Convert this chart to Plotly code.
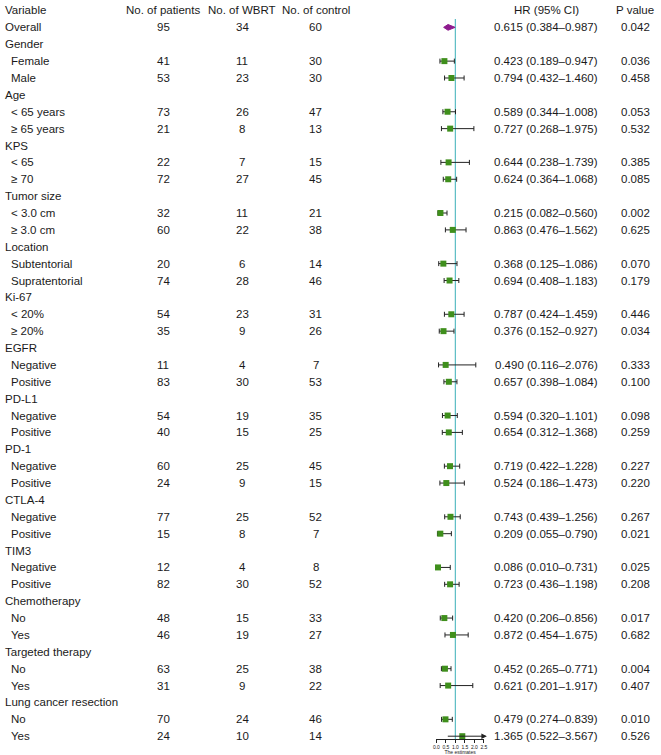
import plotly.graph_objects as go

# ---- data -------------------------------------------------------------
headers = ["Variable", "No. of patients", "No. of WBRT", "No. of control", "HR (95% CI)", "P value"]

variables = [
    "Overall",
    "Gender", "Female", "Male",
    "Age", "< 65 years", "≥ 65 years",
    "KPS", "< 65", "≥ 70",
    "Tumor size", "< 3.0 cm", "≥ 3.0 cm",
    "Location", "Subtentorial", "Supratentorial",
    "Ki-67", "< 20%", "≥ 20%",
    "EGFR", "Negative", "Positive",
    "PD-L1", "Negative", "Positive",
    "PD-1", "Negative", "Positive",
    "CTLA-4", "Negative", "Positive",
    "TIM3", "Negative", "Positive",
    "Chemotherapy", "No", "Yes",
    "Targeted therapy", "No", "Yes",
    "Lung cancer resection", "No", "Yes",
]
# 0 = group / overall row, 1 = subgroup row (indented)
levels = [0] + [0, 1, 1] * 14

N = None
n_patients = [95, N, 41, 53, N, 73, 21, N, 22, 72, N, 32, 60, N, 20, 74, N, 54, 35, N, 11, 83,
              N, 54, 40, N, 60, 24, N, 77, 15, N, 12, 82, N, 48, 46, N, 63, 31, N, 70, 24]
n_wbrt = [34, N, 11, 23, N, 26, 8, N, 7, 27, N, 11, 22, N, 6, 28, N, 23, 9, N, 4, 30,
          N, 19, 15, N, 25, 9, N, 25, 8, N, 4, 30, N, 15, 19, N, 25, 9, N, 24, 10]
n_control = [60, N, 30, 30, N, 47, 13, N, 15, 45, N, 21, 38, N, 14, 46, N, 31, 26, N, 7, 53,
             N, 35, 25, N, 45, 15, N, 52, 7, N, 8, 52, N, 33, 27, N, 38, 22, N, 46, 14]
hr = [0.615, N, 0.423, 0.794, N, 0.589, 0.727, N, 0.644, 0.624, N, 0.215, 0.863, N, 0.368, 0.694,
      N, 0.787, 0.376, N, 0.490, 0.657, N, 0.594, 0.654, N, 0.719, 0.524, N, 0.743, 0.209,
      N, 0.086, 0.723, N, 0.420, 0.872, N, 0.452, 0.621, N, 0.479, 1.365]
ci_low = [0.384, N, 0.189, 0.432, N, 0.344, 0.268, N, 0.238, 0.364, N, 0.082, 0.476, N, 0.125, 0.408,
          N, 0.424, 0.152, N, 0.116, 0.398, N, 0.320, 0.312, N, 0.422, 0.186, N, 0.439, 0.055,
          N, 0.010, 0.436, N, 0.206, 0.454, N, 0.265, 0.201, N, 0.274, 0.522]
ci_high = [0.987, N, 0.947, 1.460, N, 1.008, 1.975, N, 1.739, 1.068, N, 0.560, 1.562, N, 1.086, 1.183,
           N, 1.459, 0.927, N, 2.076, 1.084, N, 1.101, 1.368, N, 1.228, 1.473, N, 1.256, 0.790,
           N, 0.731, 1.198, N, 0.856, 1.675, N, 0.771, 1.917, N, 0.839, 3.567]
p_values = [0.042, N, 0.036, 0.458, N, 0.053, 0.532, N, 0.385, 0.085, N, 0.002, 0.625, N, 0.070, 0.179,
            N, 0.446, 0.034, N, 0.333, 0.100, N, 0.098, 0.259, N, 0.227, 0.220, N, 0.267, 0.021,
            N, 0.025, 0.208, N, 0.017, 0.682, N, 0.004, 0.407, N, 0.010, 0.526]

x_ticks = [0.0, 0.5, 1.0, 1.5, 2.0, 2.5]

# ---- layout constants -------------------------------------------------
W, H = 661, 755
FONT = "Liberation Sans, Arial, Helvetica, sans-serif"
TEXT_COLOR = "#1a1a1a"
BOX_COLOR = "#3f8f1c"
DIAMOND_COLOR = "#8e1a8e"
REF_COLOR = "#5bbdc4"
X_MAX = 2.5
ARROW_TIP = 2.66

ROW0_PX, ROW_STEP = 10.5, 16.9
PLOT_BOTTOM_PX = 740
y_top = -ROW0_PX / ROW_STEP
y_bottom = (PLOT_BOTTOM_PX - ROW0_PX) / ROW_STEP

# column x positions in pixels: (x, anchor)
col_pos = [(0, "left"), (162, "center"), (242, "center"), (316, "center"), (549, "center"), (639, "center")]
INDENT_PX = 6

fig = go.Figure()

# rows are 1-based (row 0 is the header)
rows = list(range(1, len(variables) + 1))
data_rows = [r for r, h in zip(rows, hr) if h is not None and r != 1]

# confidence intervals (rows inside the axis range)
ci_rows = [r for r in data_rows if ci_high[r - 1] <= X_MAX]
fig.add_trace(go.Scatter(
    x=[hr[r - 1] for r in ci_rows], y=ci_rows, mode="markers",
    marker=dict(size=1, color="rgba(0,0,0,0)"),
    error_x=dict(type="data", symmetric=False,
                 array=[ci_high[r - 1] - hr[r - 1] for r in ci_rows],
                 arrayminus=[hr[r - 1] - ci_low[r - 1] for r in ci_rows],
                 color="#222222", thickness=1, width=2.5),
    hoverinfo="skip", showlegend=False,
))

# rows whose upper CI is beyond the axis get an arrow
for r in data_rows:
    if ci_high[r - 1] > X_MAX:
        fig.add_annotation(x=ARROW_TIP, y=r, ax=ci_low[r - 1], ay=r,
                           xref="x", yref="y", axref="x", ayref="y",
                           text="", showarrow=True, arrowhead=2, arrowsize=1.1,
                           arrowwidth=1, arrowcolor="#222222")

# point estimates
fig.add_trace(go.Scatter(
    x=[hr[r - 1] for r in data_rows], y=data_rows, mode="markers",
    marker=dict(symbol="square", size=6, color=BOX_COLOR),
    cliponaxis=False, hoverinfo="skip", showlegend=False,
))

# overall diamond
d = 0.17
fig.add_trace(go.Scatter(
    x=[ci_low[0], hr[0], ci_high[0], hr[0], ci_low[0]],
    y=[1, 1 - d, 1, 1 + d, 1],
    mode="lines", fill="toself", fillcolor=DIAMOND_COLOR,
    line=dict(color=DIAMOND_COLOR, width=1),
    hoverinfo="skip", showlegend=False,
))

# reference line at HR = 1
fig.add_shape(type="line", x0=1, x1=1, y0=0.5, y1=y_bottom, xref="x", yref="y",
              line=dict(color=REF_COLOR, width=1.2), layer="below")


def add_text(px, anchor, row, text):
    fig.add_annotation(x=px / W, y=row, xref="paper", yref="y", text=text,
                       showarrow=False, xanchor=anchor, yanchor="middle",
                       font=dict(family=FONT, size=11.5, color=TEXT_COLOR))


for (px, anchor), label in zip(col_pos, headers):
    add_text(px, anchor, 0, label)

for r in rows:
    i = r - 1
    add_text(col_pos[0][0] + INDENT_PX * levels[i], "left", r, variables[i])
    if hr[i] is None:
        continue
    add_text(col_pos[1][0], "center", r, str(n_patients[i]))
    add_text(col_pos[2][0], "center", r, str(n_wbrt[i]))
    add_text(col_pos[3][0], "center", r, str(n_control[i]))
    add_text(col_pos[4][0], "center", r, f"{hr[i]:.3f} ({ci_low[i]:.3f}–{ci_high[i]:.3f})")
    add_text(col_pos[5][0], "center", r, f"{p_values[i]:.3f}")

fig.update_layout(
    width=W, height=H,
    margin=dict(l=0, r=0, t=0, b=H - PLOT_BOTTOM_PX),
    plot_bgcolor="white", paper_bgcolor="white",
    xaxis=dict(domain=[438 / W, 486 / W], range=[0, X_MAX],
               tickvals=x_ticks, ticktext=[f"{t:.1f}" for t in x_ticks], tickangle=0,
               showgrid=False, zeroline=False, showline=True, linecolor="#222222", linewidth=1,
               ticks="outside", ticklen=3, tickwidth=1, tickcolor="#222222",
               tickfont=dict(family=FONT, size=5, color=TEXT_COLOR),
               title=dict(text="The estimates", standoff=1,
                          font=dict(family=FONT, size=5, color=TEXT_COLOR))),
    yaxis=dict(range=[y_bottom, y_top], visible=False, showgrid=False, zeroline=False),
)

# the page body has a default 8px margin; remove it so the figure fills the window
fig.write_html("out.html", config={"displayModeBar": False},
               post_script="document.body.style.margin = '0';")
